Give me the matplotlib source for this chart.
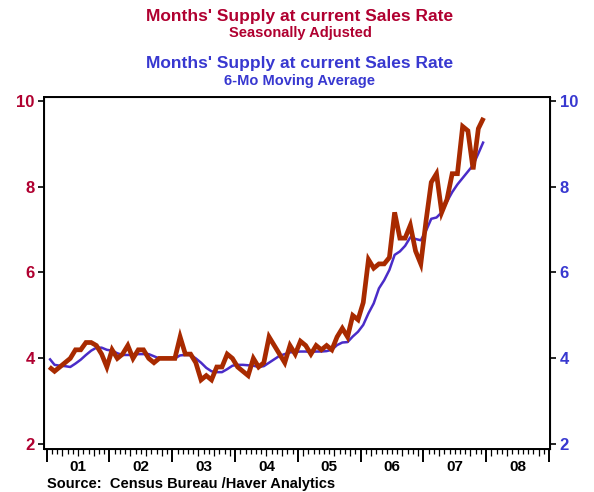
import numpy as np
import matplotlib.pyplot as plt
from matplotlib.ticker import FixedLocator, NullFormatter

# monthly data, Jan 2001 - Dec 2007
supply_sa = [
    3.8, 3.7, 3.8, 3.9, 4.0, 4.2, 4.2, 4.37, 4.37, 4.3, 4.1, 3.8,
    4.2, 4.0, 4.1, 4.3, 4.0, 4.2, 4.2, 4.0, 3.9, 4.0, 4.0, 4.0,
    4.0, 4.5, 4.1, 4.1, 3.9, 3.5, 3.6, 3.5, 3.8, 3.8, 4.1, 4.0,
    3.8, 3.7, 3.6, 4.0, 3.8, 3.9, 4.5, 4.3, 4.1, 3.9, 4.3, 4.1,
    4.4, 4.3, 4.1, 4.3, 4.2, 4.3, 4.2, 4.5, 4.7, 4.5, 5.0, 4.9,
    5.3, 6.3, 6.1, 6.2, 6.2, 6.35, 7.4, 6.8, 6.8, 7.1, 6.5, 6.2,
    7.2, 8.1, 8.3, 7.4, 7.7, 8.3, 8.3, 9.4, 9.3, 8.4, 9.35, 9.6,
]
supply_ma6 = [
    4.0, 3.85, 3.83, 3.82, 3.8, 3.88, 3.97, 4.08, 4.18, 4.25, 4.25, 4.2,
    4.18, 4.12, 4.08, 4.08, 4.08, 4.1, 4.1, 4.1, 4.05, 4.0, 4.0, 4.0,
    4.0, 4.07, 4.08, 4.08, 4.0, 3.9, 3.78, 3.7, 3.68, 3.68, 3.75, 3.83,
    3.85, 3.85, 3.84, 3.83, 3.8, 3.82, 3.9, 3.98, 4.06, 4.1, 4.14, 4.15,
    4.16, 4.16, 4.15, 4.16, 4.16, 4.17, 4.2, 4.31, 4.37, 4.38, 4.51, 4.62,
    4.78, 5.05, 5.28, 5.63, 5.82, 6.06, 6.41, 6.49, 6.62, 6.82, 6.78, 6.75,
    6.97, 7.25, 7.28, 7.4, 7.65, 7.87, 8.05, 8.2, 8.35, 8.5, 8.77, 9.05,
]
start_year = 2001
years = list(range(2001, 2010))
year_labels = ["01", "02", "03", "04", "05", "06", "07", "08"]
y_ticks = [2, 4, 6, 8, 10]

RED_LINE = "#A82A00"
BLUE_LINE = "#4A2CC8"
RED_TEXT = "#B00030"
BLUE_TEXT = "#3838D0"

font = ["Liberation Sans Narrow", "Liberation Sans", "DejaVu Sans"]
plt.rcParams["font.family"] = font
plt.rcParams["font.weight"] = "bold"

x = start_year + (np.arange(len(supply_sa)) + 0.5) / 12

fig = plt.figure(figsize=(5.94, 4.92), dpi=100)
ax = fig.add_axes([0.0746, 0.0868, 0.8513, 0.7167])

ax.plot(x, supply_ma6, color=BLUE_LINE, lw=1.8, solid_capstyle="butt")
ax.plot(x, supply_sa, color=RED_LINE, lw=3.4, solid_joinstyle="miter",
        solid_capstyle="butt")

ax.set_xlim(2000.962, 2009.016)
ax.set_ylim(1.884, 10.093)
ax.set_yticks(y_ticks)
ax.tick_params(axis="y", direction="out", length=4, width=1.2, pad=3,
               labelsize=12, labelcolor=RED_TEXT)

# year boundaries (long ticks) and months (short ticks)
ax.xaxis.set_major_locator(FixedLocator(years))
ax.xaxis.set_major_formatter(NullFormatter())
months = [start_year + m / 12 for m in range(8 * 12) if m % 12 != 0]
ax.xaxis.set_minor_locator(FixedLocator(months))
ax.tick_params(axis="x", which="major", direction="out", length=9.5, width=1.4)
ax.tick_params(axis="x", which="minor", direction="out", length=3.8, width=0.9)
for k, t in enumerate(ax.xaxis.get_minor_ticks()):
    if (k + 1) % 12 in (3, 6, 9):
        t.tick1line.set_markersize(5.0)

sec = ax.secondary_xaxis("bottom")
sec.set_xticks([y + 0.5 for y in years[:-1]])
sec.set_xticklabels(year_labels)
sec.tick_params(length=0, pad=8, labelsize=11)
sec.spines["bottom"].set_visible(False)

for s in ax.spines.values():
    s.set_linewidth(1.4)

ax2 = ax.twinx()
ax2.set_ylim(ax.get_ylim())
ax2.set_yticks(y_ticks)
ax2.tick_params(axis="y", direction="out", length=4, width=1.2, pad=3,
                labelsize=12, labelcolor=BLUE_TEXT)

fig.text(0.505, 0.967, "Months' Supply at current Sales Rate", ha="center",
         va="center", color=RED_TEXT, fontsize=12.5)
fig.text(0.505, 0.932, "Seasonally Adjusted", ha="center", va="center",
         color=RED_TEXT, fontsize=10.5)
fig.text(0.505, 0.870, "Months' Supply at current Sales Rate", ha="center",
         va="center", color=BLUE_TEXT, fontsize=12.5)
fig.text(0.505, 0.835, "6-Mo Moving Average", ha="center", va="center",
         color=BLUE_TEXT, fontsize=10.5)
fig.text(0.079, 0.016, "Source:  Census Bureau /Haver Analytics", ha="left",
         va="center", color="black", fontsize=10.5)

fig.savefig("out.png", dpi=100)
